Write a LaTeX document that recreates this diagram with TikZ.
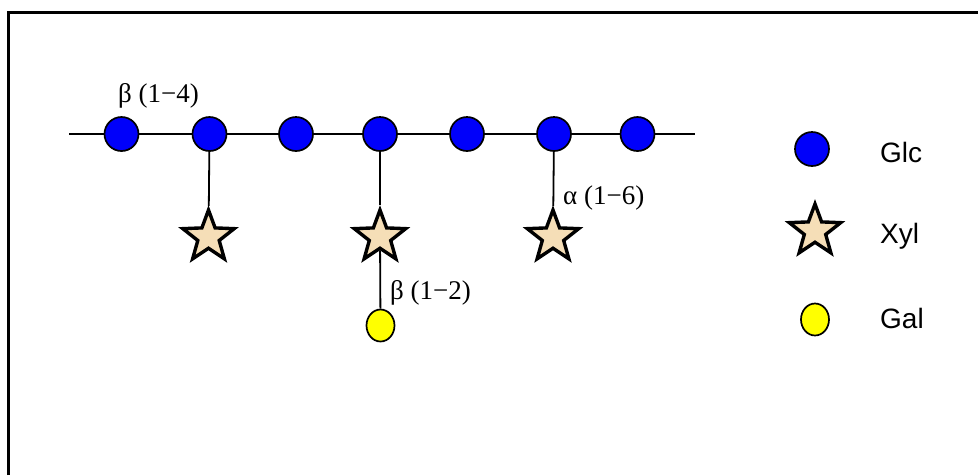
\documentclass[tikz,border=0pt]{standalone}
\usepackage{fontspec}
\setmainfont{Liberation Serif}
\newfontfamily\legfont{Liberation Sans}
\usetikzlibrary{shapes.geometric}
\definecolor{glcblue}{RGB}{0,0,250}
\definecolor{xylfill}{RGB}{245,222,183}
\definecolor{galyellow}{RGB}{255,255,0}
\begin{document}
\begin{tikzpicture}[x=1pt,y=-1pt,
  glc/.style={circle,draw=black,fill=glcblue,line width=1.7pt,minimum size=34pt,inner sep=0pt},
  xyl/.style={star,star points=5,star point ratio=2.4,draw=black,fill=xylfill,line width=3.4pt,minimum size=54pt,inner sep=0pt},
  gal/.style={ellipse,draw=black,fill=galyellow,line width=1.7pt,minimum width=28pt,minimum height=32pt,inner sep=0pt},
  bond/.style={draw=black,line width=1.8pt},
  lbl/.style={font=\fontsize{27}{30}\selectfont,anchor=base west,inner sep=0pt},
  leg/.style={font=\legfont\fontsize{28}{30}\selectfont,anchor=base west,inner sep=0pt},
  frame/.style={line width=3pt,draw=black}
]
\useasboundingbox (0,0) rectangle (978,475);
\draw[frame] (8,475) -- (8,12) -- (978,12);

% chain
\coordinate (left) at (69,134);
\coordinate (right) at (695,134);
\node[glc] (g1) at (121.5,134) {};
\node[glc] (g2) at (209.5,134) {};
\node[glc] (g3) at (296,134) {};
\node[glc] (g4) at (380,134) {};
\node[glc] (g5) at (467,134) {};
\node[glc] (g6) at (554,134) {};
\node[glc] (g7) at (637.5,134) {};

\node[xyl] (x1) at (208.5,237) {};
\node[xyl] (x2) at (380,237) {};
\node[xyl] (x3) at (553,237) {};
\node[gal] (gal) at (380.5,325.5) {};

\draw[bond] (left) -- (g1) -- (g2) -- (g3) -- (g4) -- (g5) -- (g6) -- (g7) -- (right);
\draw[bond] (g2) -- (x1);
\draw[bond] (g4) -- (x2);
\draw[bond] (g6) -- (x3);
\draw[bond] (x2) -- (gal);

% labels
\node[lbl] (l14) at (118,102) {β (1−4)};
\node[lbl] (l16) at (563,204) {α (1−6)};
\node[lbl] (l12) at (390,299) {β (1−2)};

% legend
\node[glc] (kglc) at (812,149) {};
\node[xyl] (kxyl) at (815,231) {};
\node[gal] (kgal) at (815,319.5) {};
\node[leg] (tglc) at (880,162) {Glc};
\node[leg] (txyl) at (880,243) {Xyl};
\node[leg] (tgal) at (880,328) {Gal};
\end{tikzpicture}
\end{document}
